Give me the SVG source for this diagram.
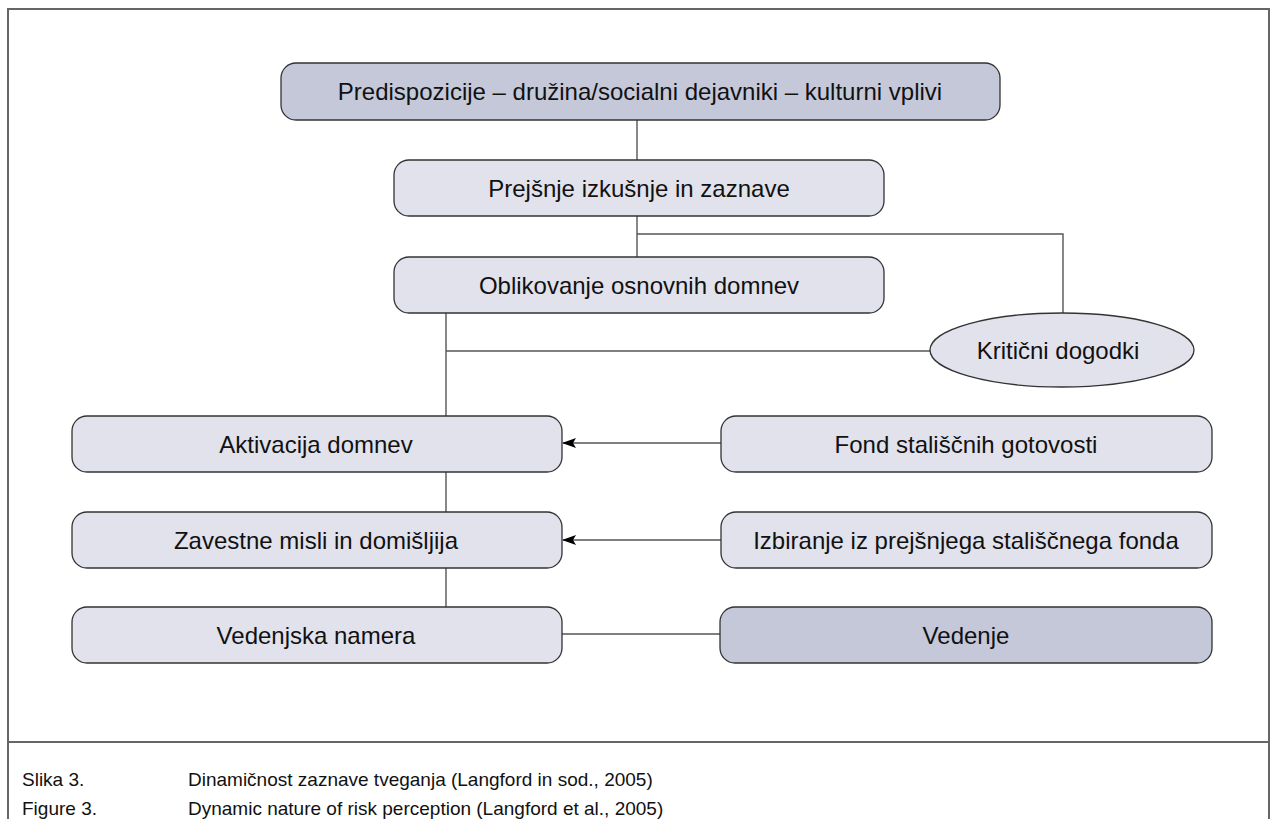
<svg xmlns="http://www.w3.org/2000/svg" width="1273" height="819" viewBox="0 0 1273 819">
<style>
.frame{fill:none;stroke:#666;stroke-width:2}
.dark{fill:#c5c8d9;stroke:#333;stroke-width:1.3}
.light{fill:#e1e2ec;stroke:#333;stroke-width:1.3}
.con{fill:none;stroke:#555;stroke-width:1.4}
.t{font-family:"Liberation Sans",Arial,sans-serif;font-size:24px;fill:#111;text-anchor:middle}
.cap{font-family:"Liberation Sans",Arial,sans-serif;font-size:19px;fill:#111}
</style>
<defs>
<marker id="arr" markerWidth="14" markerHeight="10" refX="13" refY="5" orient="auto" markerUnits="userSpaceOnUse">
<path d="M0,0 L14,5 L0,10 L3,5 Z" fill="#000"/>
</marker>
</defs>
<rect width="1273" height="819" fill="#fff"/>
<path class="frame" d="M8,830 V9 H1269 V830"/>
<line x1="8" y1="742" x2="1269" y2="742" stroke="#666" stroke-width="2"/>
<g id="connectors">
<line class="con" x1="637" y1="120" x2="637" y2="160"/>
<line class="con" x1="637" y1="216" x2="637" y2="257"/>
<polyline class="con" points="637,234 1063,234 1063,313"/>
<line class="con" x1="446" y1="313" x2="446" y2="416"/>
<line class="con" x1="446" y1="351" x2="930" y2="351"/>
<line class="con" x1="446" y1="472" x2="446" y2="512"/>
<line class="con" x1="446" y1="568" x2="446" y2="607"/>
<line class="con" x1="721" y1="443" x2="563" y2="443" marker-end="url(#arr)"/>
<line class="con" x1="721" y1="540" x2="563" y2="540" marker-end="url(#arr)"/>
<line class="con" x1="562" y1="634" x2="720" y2="634"/>
</g>
<g id="n1"><rect class="dark" x="281" y="63" width="719" height="57" rx="15"/><text class="t" x="640" y="100">Predispozicije – družina/socialni dejavniki – kulturni vplivi</text></g>
<g id="n2"><rect class="light" x="394" y="160" width="490" height="56" rx="15"/><text class="t" x="639" y="197">Prejšnje izkušnje in zaznave</text></g>
<g id="n3"><rect class="light" x="394" y="257" width="490" height="56" rx="15"/><text class="t" x="639" y="294">Oblikovanje osnovnih domnev</text></g>
<g id="n4"><ellipse class="light" cx="1062" cy="350" rx="132" ry="37"/><text class="t" x="1058" y="359">Kritični dogodki</text></g>
<g id="n5"><rect class="light" x="72" y="416" width="490" height="56" rx="15"/><text class="t" x="316" y="453">Aktivacija domnev</text></g>
<g id="n6"><rect class="light" x="721" y="416" width="491" height="56" rx="15"/><text class="t" x="966" y="453">Fond stališčnih gotovosti</text></g>
<g id="n7"><rect class="light" x="72" y="512" width="490" height="56" rx="15"/><text class="t" x="316" y="549">Zavestne misli in domišljija</text></g>
<g id="n8"><rect class="light" x="721" y="512" width="491" height="56" rx="15"/><text class="t" x="966" y="549">Izbiranje iz prejšnjega stališčnega fonda</text></g>
<g id="n9"><rect class="light" x="72" y="607" width="490" height="56" rx="15"/><text class="t" x="316" y="644">Vedenjska namera</text></g>
<g id="n10"><rect class="dark" x="720" y="607" width="492" height="56" rx="15"/><text class="t" x="966" y="644">Vedenje</text></g>
<g id="caption">
<text class="cap" x="22" y="786">Slika 3.</text>
<text class="cap" x="188" y="786">Dinamičnost zaznave tveganja (Langford in sod., 2005)</text>
<text class="cap" x="22" y="815">Figure 3.</text>
<text class="cap" x="188" y="815">Dynamic nature of risk perception (Langford et al., 2005)</text>
</g>
</svg>
